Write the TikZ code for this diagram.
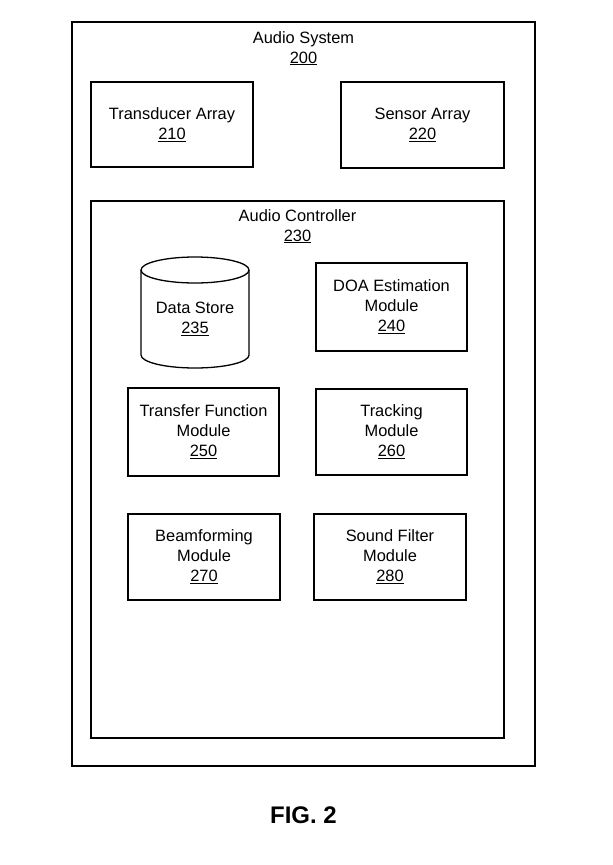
\documentclass[tikz,border=0pt]{standalone}
\usepackage{fontspec}
\setmainfont{Liberation Sans}
\tikzset{
  block/.style={draw=black, line width=1.3pt, align=center, inner sep=0pt,
    font=\fontsize{16.4}{20}\selectfont},
  label/.style={align=center, inner sep=0pt, font=\fontsize{16.4}{20}\selectfont}
}
\begin{document}
\begin{tikzpicture}[x=1pt, y=-1pt]
			%%%%% START %%%%%
			\useasboundingbox (0, 0) rectangle (613, 865);
			
			% audio system frame
			\draw[line width=1.3pt] (72, 22) rectangle (535, 766);
			\node[label, anchor=north] (sys) at (303.5, 31) {Audio System\\\underline{200}};
			
			\node[block, minimum width=162pt, minimum height=85pt] (tda) at (172, 124.5) {Transducer Array\\\underline{210}};
			\node[block, minimum width=163pt, minimum height=86pt] (sna) at (422.5, 125) {Sensor Array\\\underline{220}};
			
			% audio controller frame
			\draw[line width=1.3pt] (91, 201) rectangle (504, 738);
			\node[label, anchor=north] (ctl) at (297.5, 209) {Audio Controller\\\underline{230}};
			
			% data store cylinder
			\draw[line width=1.3pt] (195, 270) ellipse (54 and 13);
			\draw[line width=1.3pt] (141, 270) -- (141, 355) arc (180:0:54 and 13) -- (249, 270);
			\node[label] (dst) at (195, 319) {Data Store\\\underline{235}};
			
			\node[block, minimum width=151pt, minimum height=88pt] (doa) at (391.5, 307) {DOA Estimation\\Module\\\underline{240}};
			\node[block, minimum width=151pt, minimum height=88pt] (tfm) at (203.5, 432) {Transfer Function\\Module\\\underline{250}};
			\node[block, minimum width=151pt, minimum height=86pt] (trk) at (391.5, 432) {Tracking\\Module\\\underline{260}};
			\node[block, minimum width=152pt, minimum height=86pt] (bfm) at (204, 557) {Beamforming\\Module\\\underline{270}};
			\node[block, minimum width=152pt, minimum height=86pt] (sfm) at (390, 557) {Sound Filter\\Module\\\underline{280}};
			
			\node[inner sep=0pt, font=\fontsize{24}{28}\bfseries] (fig) at (303.5, 815) {FIG. 2};
			%%%%% END %%%%%
\end{tikzpicture}
\end{document}
